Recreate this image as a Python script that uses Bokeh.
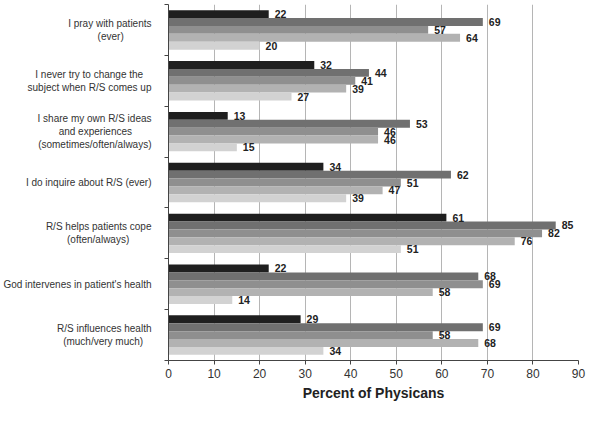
from bokeh.plotting import figure
from bokeh.models import (ColumnDataSource, FixedTicker, Legend, LegendItem,
                          LabelSet)
from bokeh.core.properties import value
from bokeh.transform import dodge
from bokeh.embed import file_html
from bokeh.resources import INLINE

categories = [
    "I pray with patients\n(ever)",
    "I never try to change the\nsubject when R/S comes up",
    "I share my own R/S ideas\nand experiences\n(sometimes/often/always)",
    "I do inquire about R/S (ever)",
    "R/S helps patients cope\n(often/always)",
    "God intervenes in patient's health",
    "R/S influences health\n(much/very much)",
]
series = ["Jewish", "Protestant", "Catholic", "Other", "None"]
jewish = [22, 32, 13, 34, 61, 22, 29]
protestant = [69, 44, 53, 62, 85, 68, 69]
catholic = [57, 41, 46, 51, 82, 69, 58]
other = [64, 39, 46, 47, 76, 58, 68]
none_ = [20, 27, 15, 39, 51, 14, 34]
x_ticks = [0, 10, 20, 30, 40, 50, 60, 70, 80, 90]

values = [jewish, protestant, catholic, other, none_]
colors = ["#1f1f1f", "#707070", "#8f8f8f", "#b2b2b2", "#d2d2d2"]

# approximate Arial/Liberation Sans advance widths (per 1000 em), used only
# to centre the lines of the multi-line axis labels
_W = {" ": 278, "\u00a0": 278, "(": 333, ")": 333, "/": 278, "'": 191,
      "R": 722, "S": 667, "I": 278, "G": 778, "a": 556, "b": 556, "c": 500,
      "d": 556, "e": 556, "f": 278, "g": 556, "h": 556, "i": 222, "j": 222,
      "k": 500, "l": 222, "m": 833, "n": 556, "o": 556, "p": 556, "q": 556,
      "r": 333, "s": 500, "t": 278, "u": 556, "v": 500, "w": 722, "x": 500,
      "y": 500, "z": 500}


def _width(s):
    return sum(_W.get(ch, 556) for ch in s)


def centre_lines(label):
    lines = label.split("\n")
    wmax = max(_width(l) for l in lines)
    out = []
    for l in lines:
        pad = int(round((wmax - _width(l)) / 2 / 278))
        out.append(l + "\u00a0" * pad)
    return "\n".join(out)


n = len(categories)
ypos = [n - 0.5 - i for i in range(n)]
bar_h = 0.155

FONT = "Liberation Sans"

p = figure(width=584, height=429, output_backend="svg", toolbar_location=None,
           x_range=(0, 90), y_range=(0, n),
           min_border_left=162, min_border_right=12, min_border_top=4,
           min_border_bottom=0,
           frame_width=410, frame_height=356)
p.outline_line_color = None
p.background_fill_color = "white"

items = []
for j, (name, vals, col) in enumerate(zip(series, values, colors)):
    src = ColumnDataSource(dict(y=ypos, v=vals, t=[str(v) for v in vals]))
    off = (2 - j) * bar_h
    r = p.hbar(y=dodge("y", off), right="v", left=0, height=bar_h, source=src,
               fill_color=col, line_color=None)
    items.append(LegendItem(label=name, renderers=[r]))
    lbl = LabelSet(x="v", y=dodge("y", off), text="t", source=src,
                   x_offset=6, y_offset=0, text_baseline="middle",
                   text_font=value(FONT), text_font_size=value("10.5px"),
                   text_font_style=value("bold"), text_color=value("#222222"))
    p.add_layout(lbl)

# x axis
p.xaxis.ticker = FixedTicker(ticks=x_ticks)
p.xaxis.axis_label = "Percent of Physicans"
p.xaxis.axis_label_text_font = FONT
p.xaxis.axis_label_text_font_size = "14px"
p.xaxis.axis_label_text_font_style = "bold"
p.xaxis.axis_label_text_color = "#222222"
p.xaxis.axis_label_standoff = 4
p.xaxis.major_label_text_font = FONT
p.xaxis.major_label_text_font_size = "12px"
p.xaxis.major_label_text_color = "#333333"
p.xaxis.major_tick_out = 4
p.xaxis.major_tick_in = 0
p.xaxis.minor_tick_line_color = None
p.xaxis.axis_line_color = "#444444"
p.xaxis.major_tick_line_color = "#444444"
p.xaxis.major_label_standoff = 4

# y axis
p.yaxis.ticker = FixedTicker(ticks=ypos, minor_ticks=list(range(n + 1)))
p.yaxis.major_label_overrides = {y: centre_lines(c) for y, c in zip(ypos, categories)}
p.yaxis.major_tick_out = 0
p.yaxis.major_tick_in = 0
p.yaxis.minor_tick_out = 4
p.yaxis.minor_tick_in = 0
p.yaxis.minor_tick_line_color = "#444444"
p.yaxis.axis_line_color = "#444444"
p.yaxis.major_label_text_font = FONT
p.yaxis.major_label_text_font_size = "10px"
p.yaxis.major_label_text_color = "#333333"
p.yaxis.major_label_standoff = 13

p.xgrid.grid_line_color = "#b5b5b5"
p.xgrid.grid_line_width = 1
p.ygrid.grid_line_color = None

legend = Legend(items=items, orientation="horizontal", location="top_center",
                border_line_color=None, background_fill_alpha=0,
                glyph_width=10, glyph_height=10, label_standoff=2,
                label_height=12, spacing=11, padding=0, margin=8,
                label_text_font=FONT, label_text_font_size="12px",
                label_text_color="#222222")
p.add_layout(legend, "below")

open("out.html", "w").write(file_html(p, INLINE))
